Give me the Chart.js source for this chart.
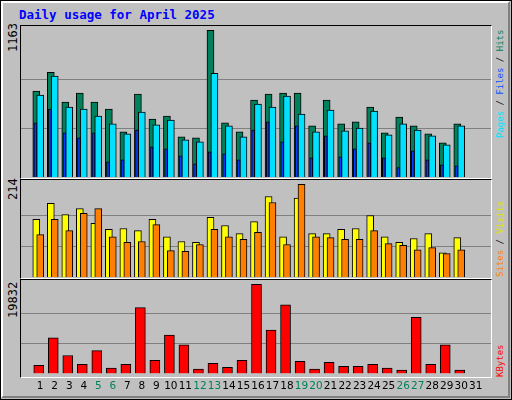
<!DOCTYPE html>
<html>
<head>
<meta charset="utf-8">
<script src="https://cdn.jsdelivr.net/npm/chart.js@4"></script>
<style>
body { margin: 0; background: #c0c0c0; }
#frame { position: absolute; left: 0; top: 0; width: 510px; height: 398px; background: #c0c0c0;
  border: 1px solid #000; }
#bevel { position: absolute; left: 1px; top: 1px; width: 505px; height: 393px;
  border-top: 2px solid #fff; border-left: 2px solid #fff; border-right: 2px solid #808080; border-bottom: 2px solid #808080; }
.panel { position: absolute; left: 20px; width: 470px; border-top: 1px solid #000; border-left: 1px solid #000;
  border-right: 1px solid #fff; border-bottom: 1px solid #fff; }
.txt { position: absolute; font-family: "DejaVu Sans Mono", monospace; white-space: nowrap; }
.rot { transform-origin: left top; transform: rotate(-90deg); }
canvas { position: absolute; }
</style>
</head>
<body>
<div id="frame"></div>
<div id="bevel"></div>
<div class="txt" style="left:19px;top:7px;color:#0000ff;font-weight:bold;font-size:12.5px;">Daily usage for April 2025</div>
<div class="panel" style="top:25px;height:152px;"></div>
<div class="panel" style="top:179px;height:98px;"></div>
<div class="panel" style="top:279px;height:97px;"></div>
<div class="txt rot" style="left:6px;top:52px;font-size:12px;color:#000;">1163</div>
<div class="txt rot" style="left:6px;top:200px;font-size:12px;color:#000;">214</div>
<div class="txt rot" style="left:6px;top:318px;font-size:12px;color:#000;">19832</div>
<div class="txt rot" style="left:495px;top:138px;font-size:9px;"><span style="color:#00e0ff">Pages</span><span style="color:#000"> / </span><span style="color:#0050ff">Files</span><span style="color:#000"> / </span><span style="color:#00805c">Hits</span></div>
<div class="txt rot" style="left:495px;top:277px;font-size:9px;"><span style="color:#ff8000">Sites</span><span style="color:#000"> / </span><span style="color:#e0e000">Visits</span></div>
<div class="txt rot" style="left:495px;top:377px;font-size:9px;color:#ff0000;">KBytes</div>
<canvas id="c1" style="left:21px;top:26px;width:470px;height:151px;" width="470" height="151"></canvas>
<canvas id="c2" style="left:21px;top:180px;width:470px;height:97px;" width="470" height="97"></canvas>
<canvas id="c3" style="left:21px;top:281px;width:470px;height:119px;" width="470" height="119"></canvas>
<script>
"use strict";

let days = [1,2,3,4,5,6,7,8,9,10,11,12,13,14,15,16,17,18,19,20,21,22,23,24,25,26,27,28,29,30,31];
let weekends = [5,6,12,13,19,20,26,27];

let hits = [682,831,595,666,595,539,358,658,460,484,318,310,1163,429,358,610,658,666,666,405,610,421,437,555,350,476,405,342,271,421,0];
let files = [650,800,555,539,484,421,342,515,413,452,295,279,823,405,318,579,555,642,500,358,531,366,389,523,334,421,373,326,255,405,0];
let pages = [429,539,350,310,350,121,137,373,239,224,168,105,200,184,137,373,437,279,405,153,326,160,224,271,153,74,208,137,97,89,0];

let visits = [133,170,144,158,124,110,112,107,133,93,82,80,138,119,100,128,186,93,182,100,100,110,112,142,93,80,89,100,56,91,0];
let sites = [98,133,107,147,158,93,80,82,121,61,59,75,110,93,87,103,172,75,214,93,91,87,87,107,77,73,63,68,54,63,0];

let kbytes = [1810,7890,3981,2027,5067,1158,2027,14620,2895,8541,6369,941,2244,1375,2895,19832,9627,15272,2678,941,2461,1592,1592,2027,1158,724,12450,2027,6369,724,0];

let maxHits = 1163, maxVisits = 214, maxKbytes = 19832;

function pts(arr, shift) {
    return arr.map(function (v, i) { return { x: days[i] + shift, y: v }; });
}

function ds(arr, shift, color, width) {
    return { data: pts(arr, shift), backgroundColor: color, borderColor: "#000", borderWidth: 1,
        barThickness: width, grouped: false, borderSkipped: "bottom" };
}

function opts(top, plotTop, withX) {
    return {
        responsive: false, animation: false, events: [],
        plugins: { legend: { display: false }, tooltip: { enabled: false } },
        layout: { padding: 0 },
        scales: {
            x: { type: "linear", min: 0.5, max: 31.83, display: withX,
                grid: { display: false, drawTicks: false }, border: { display: false },
                afterBuildTicks: function (s) { s.ticks = days.map(function (d) { return { value: d + 0.3 }; }); },
                ticks: { padding: 7, autoSkip: false, maxRotation: 0,
                    font: { family: "DejaVu Sans", size: 10.5 },
                    color: function (c) { let d = Math.round(c.tick.value - 0.3); return weekends.includes(d) ? "#00805c" : "#000"; },
                    callback: function (v) { return String(Math.round(v - 0.3)); } } },
            y: { min: 0, max: plotTop, display: true,
                grid: { color: "#808080", lineWidth: 1, drawTicks: false }, border: { display: false },
                afterBuildTicks: function (s) { s.ticks = [{ value: top / 3 }, { value: top * 2 / 3 }]; },
                afterFit: function (s) { s.width = 0; },
                ticks: { display: false, padding: 0 } }
        }
    };
}

new Chart(document.getElementById("c1").getContext("2d"), {
    type: "bar",
    data: { datasets: [ds(pages, -0.03, "#0040ff", 3), ds(files, 0.3, "#00e0ff", 7), ds(hits, 0.03, "#00805c", 7)] },
    options: opts(maxHits, 1198, false)
});

new Chart(document.getElementById("c2").getContext("2d"), {
    type: "bar",
    data: { datasets: [ds(sites, 0.3, "#ff8000", 7), ds(visits, 0.03, "#ffff00", 7)] },
    options: opts(maxVisits, 224, false)
});

new Chart(document.getElementById("c3").getContext("2d"), {
    type: "bar",
    data: { datasets: [ds(kbytes, 0.2, "#ff0000", 10)] },
    options: opts(maxKbytes, 20548, true)
});
</script>
</body>
</html>
